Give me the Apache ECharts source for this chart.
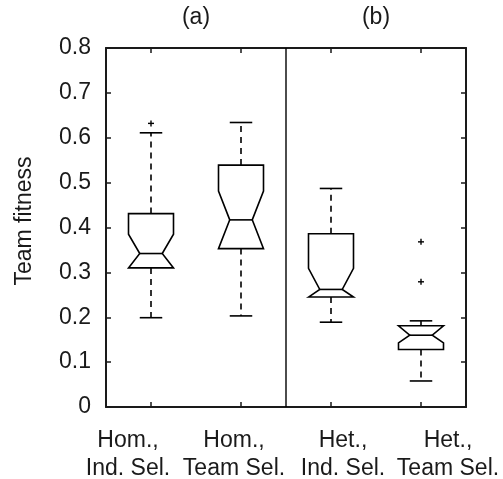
<!DOCTYPE html>
<html><head><meta charset="utf-8">
<script src="https://cdn.jsdelivr.net/npm/echarts@6/dist/echarts.min.js"></script>
<style>html,body{margin:0;padding:0;background:#fff}#c{width:503px;height:479px}</style>
</head><body><div id="c"></div>
<script>
// Data
const categories = ['Hom.,\nInd. Sel.', 'Hom.,\nTeam Sel.', 'Het.,\nInd. Sel.', 'Het.,\nTeam Sel.'];
const panelLabels = ['(a)', '(b)'];
const whiskerLow  = [0.199, 0.203, 0.189, 0.058];
const q1          = [0.310, 0.353, 0.245, 0.128];
const notchLow    = [0.310, 0.353, 0.245, 0.143];
const median      = [0.342, 0.417, 0.262, 0.160];
const notchHigh   = [0.385, 0.481, 0.309, 0.181];
const q3          = [0.431, 0.539, 0.386, 0.181];
const whiskerHigh = [0.611, 0.634, 0.487, 0.192];
const outliers    = [[0, 0.632], [3, 0.368], [3, 0.279]];
const dividerAfter = [1]; // vertical separator after this category index
const yTicks = [0, 0.1, 0.2, 0.3, 0.4, 0.5, 0.6, 0.7, 0.8];

const boxData = categories.map((c, i) => [i, whiskerLow[i], q1[i], notchLow[i], median[i], notchHigh[i], q3[i], whiskerHigh[i]]);

const FONT = 'Liberation Sans, Arial, sans-serif';
const FS = 23;
const INK = '#1a1a1a';
const chart = echarts.init(document.getElementById('c'), null, {renderer: 'canvas'});

function renderBox(params, api) {
  const i = api.value(0);
  const x = api.coord([i, 0])[0];
  const bw = api.size([1, 0])[0] * 0.25;
  const y = k => api.coord([i, api.value(k)])[1];
  const wl = y(1), b1 = y(2), nlo = y(3), md = y(4), nhi = y(5), b3 = y(6), wh = y(7);
  const solid = {stroke: '#000', lineWidth: 1.6, fill: null};
  const dashed = {stroke: '#000', lineWidth: 1.6, lineDash: [6, 5]};
  return {
    type: 'group',
    children: [
      {type: 'polygon', shape: {points: [
        [x - bw, b1], [x - bw, nlo], [x - bw / 2, md], [x - bw, nhi], [x - bw, b3],
        [x + bw, b3], [x + bw, nhi], [x + bw / 2, md], [x + bw, nlo], [x + bw, b1]
      ]}, style: {stroke: '#000', lineWidth: 1.6, fill: 'rgba(0,0,0,0)'}},
      {type: 'line', shape: {x1: x - bw / 2, y1: md, x2: x + bw / 2, y2: md}, style: solid},
      {type: 'line', shape: {x1: x, y1: b3, x2: x, y2: wh}, style: dashed},
      {type: 'line', shape: {x1: x, y1: b1, x2: x, y2: wl}, style: dashed},
      {type: 'line', shape: {x1: x - bw / 2, y1: wh, x2: x + bw / 2, y2: wh}, style: solid},
      {type: 'line', shape: {x1: x - bw / 2, y1: wl, x2: x + bw / 2, y2: wl}, style: solid}
    ]
  };
}

function renderOutlier(params, api) {
  const p = api.coord([api.value(0), api.value(1)]);
  const s = 3;
  const st = {stroke: '#000', lineWidth: 1.4};
  return {type: 'group', children: [
    {type: 'line', shape: {x1: p[0] - s, y1: p[1], x2: p[0] + s, y2: p[1]}, style: st},
    {type: 'line', shape: {x1: p[0], y1: p[1] - s, x2: p[0], y2: p[1] + s}, style: st}
  ]};
}

function renderDivider(params, api) {
  const i = api.value(0);
  const xa = api.coord([i, 0])[0], xb = api.coord([i + 1, 0])[0];
  const x = (xa + xb) / 2;
  const top = api.coord([i, yTicks[yTicks.length - 1]])[1];
  const bot = api.coord([i, yTicks[0]])[1];
  return {type: 'line', shape: {x1: x, y1: top, x2: x, y2: bot}, style: {stroke: '#000', lineWidth: 1.4}};
}

// per-label horizontal nudges (label text in the reference is offset from the ticks)
const labelStyle = (pad) => ({fontFamily: FONT, fontSize: FS, color: INK, lineHeight: 28, padding: pad});
const rich = {
  l0: labelStyle([0, 46, 0, 0]),
  l1: labelStyle([0, 14, 0, 0]),
  l2: labelStyle([0, 0, 0, 24]),
  l3: labelStyle([0, 0, 0, 54])
};

const axisLine = {show: true, onZero: false, lineStyle: {color: INK, width: 2}};
const tick = {show: true, inside: true, length: 5, lineStyle: {color: INK, width: 1.5}};
chart.setOption({
  animation: false,
  backgroundColor: '#fff',
  grid: {left: 106, right: 37, top: 48, bottom: 72, containLabel: false, outerBoundsMode: 'none'},
  xAxis: [
    {type: 'category', data: categories, position: 'bottom', boundaryGap: true,
     axisLine: axisLine,
     axisTick: Object.assign({alignWithLabel: true}, tick),
     axisLabel: {interval: 0, hideOverlap: false, color: INK, fontFamily: FONT, fontSize: FS, lineHeight: 28, margin: 20,
       formatter: (v, idx) => v.split('\n').map(s => '{l' + idx + '|' + s + '}').join('\n'),
       rich: rich},
     splitLine: {show: false}},
    {type: 'category', data: categories, position: 'top', boundaryGap: true,
     axisLine: axisLine,
     axisTick: Object.assign({alignWithLabel: true}, tick),
     axisLabel: {show: false}, splitLine: {show: false}},
    {type: 'category', data: panelLabels, position: 'top', offset: 0, boundaryGap: true,
     axisLine: {show: false}, axisTick: {show: false},
     axisLabel: {interval: 0, color: INK, fontFamily: FONT, fontSize: FS, margin: 19}, splitLine: {show: false}}
  ],
  yAxis: [
    {type: 'value', min: yTicks[0], max: yTicks[yTicks.length - 1], interval: 0.1, position: 'left',
     name: 'Team fitness', nameLocation: 'middle', nameGap: 70, nameRotate: 90,
     nameTextStyle: {color: INK, fontFamily: FONT, fontSize: FS, padding: [0, 0, 0, 13]},
     axisLine: axisLine,
     axisTick: tick,
     axisLabel: {color: INK, fontFamily: FONT, fontSize: FS, margin: 15,
       formatter: v => (Math.abs(v) < 1e-9 ? '0' : v.toFixed(1))},
     splitLine: {show: false}},
    {type: 'value', min: yTicks[0], max: yTicks[yTicks.length - 1], interval: 0.1, position: 'right',
     axisLine: axisLine,
     axisTick: tick,
     axisLabel: {show: false}, splitLine: {show: false}}
  ],
  series: [
    {type: 'custom', xAxisIndex: 0, yAxisIndex: 0, renderItem: renderDivider, data: dividerAfter.map(d => [d]),
     encode: {x: 0}, z: 3, clip: false},
    {type: 'custom', xAxisIndex: 0, yAxisIndex: 0, renderItem: renderBox, data: boxData,
     encode: {x: 0, y: [1, 2, 3, 4, 5, 6, 7]}, z: 5},
    {type: 'custom', xAxisIndex: 0, yAxisIndex: 0, renderItem: renderOutlier, data: outliers,
     encode: {x: 0, y: 1}, z: 5}
  ]
});
</script></body></html>
